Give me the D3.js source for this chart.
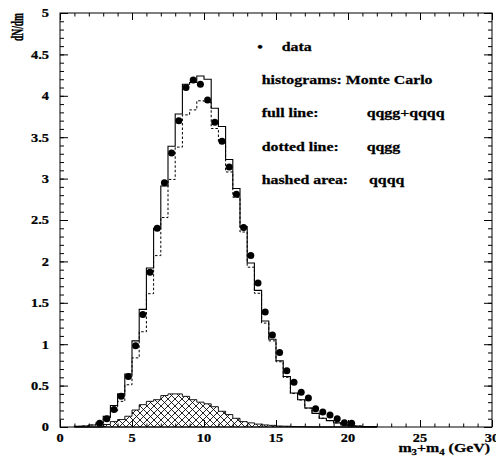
<!DOCTYPE html>
<html>
<head>
<meta charset="utf-8">
<script src="https://cdn.jsdelivr.net/npm/d3@7"></script>
<style>
  html, body { margin: 0; padding: 0; background: #fff; }
  svg { display: block; }
  text { font-family: "Liberation Serif", "Times New Roman", serif; font-weight: bold; fill: #000; stroke: #000; stroke-width: 0.25; }
</style>
</head>
<body>
<svg id="chart" width="496" height="463"></svg>
<script>
// ---------- data ----------
// histogram bins: lower edges (GeV), width 0.5
const binLow = [1.0,1.5,2.0,2.5,3.0,3.5,4.0,4.5,5.0,5.5,6.0,6.5,7.0,7.5,8.0,8.5,9.0,9.5,10.0,10.5,
                11.0,11.5,12.0,12.5,13.0,13.5,14.0,14.5,15.0,15.5,16.0,16.5,17.0,17.5,18.0,18.5,19.0,19.5,20.0,20.5,21.0,21.5];
const binWidth = 0.5;
// full line: qqgg+qqqq
const mcFull = [0.008,0.012,0.024,0.05,0.13,0.26,0.40,0.64,1.04,1.42,1.92,2.40,2.91,3.39,3.78,4.14,4.16,4.24,4.20,3.85,
                3.63,3.23,2.88,2.42,1.98,1.65,1.28,1.06,0.80,0.61,0.41,0.33,0.23,0.165,0.105,0.077,0.05,0.025,0.015,0.01,0.005,0.003];
// dotted line: qqgg
const mcQQGG = [0.008,0.012,0.024,0.05,0.10,0.195,0.31,0.51,0.835,1.15,1.61,2.07,2.53,2.99,3.38,3.77,3.83,3.94,3.92,3.605,
                3.44,3.08,2.775,2.355,1.93,1.615,1.255,1.04,0.788,0.60,0.404,0.326,0.228,0.164,0.105,0.077,0.05,0.025,0.015,0.01,0.005,0.003];
// hashed area: qqqq
const mcQQQQ = [0,0,0,0,0.03,0.065,0.09,0.13,0.205,0.27,0.31,0.33,0.38,0.40,0.40,0.37,0.33,0.30,0.28,0.245,
                0.19,0.15,0.105,0.065,0.05,0.035,0.025,0.02,0.012,0.01,0.006,0.004,0.002,0.001,0,0,0,0,0,0,0,0];
// data points
const dataX = [2.75,3.25,3.75,4.25,4.75,5.25,5.75,6.25,6.75,7.25,7.75,8.25,8.75,9.25,9.75,10.25,10.75,11.25,11.75,12.25,
               12.75,13.25,13.75,14.25,14.75,15.25,15.75,16.25,16.75,17.25,17.75,18.25,18.75,19.25,19.75,20.25];
const dataY = [0.045,0.10,0.21,0.37,0.61,0.98,1.36,1.87,2.40,2.95,3.31,3.70,4.10,4.19,4.14,3.95,3.68,3.45,3.14,2.81,
               2.41,2.07,1.74,1.39,1.11,0.90,0.68,0.54,0.42,0.35,0.22,0.18,0.145,0.10,0.05,0.045];
// ticks
const xTickLabels = [0,5,10,15,20,25,30];
const yTickLabels = [0,0.5,1,1.5,2,2.5,3,3.5,4,4.5,5];
// legend
const legendRows = [
  ["histograms: Monte Carlo", ""],
  ["full line:", "qqgg+qqqq"],
  ["dotted line:", "qqgg"],
  ["hashed area:", "qqqq"]
];

// ---------- layout ----------
const svg = d3.select("#chart");
const x = d3.scaleLinear().domain([0, 30]).range([60, 492]);
const y = d3.scaleLinear().domain([0, 5]).range([427, 13]);

// hatch pattern
const defs = svg.append("defs");
const pat = defs.append("pattern").attr("id", "hatch").attr("patternUnits", "userSpaceOnUse")
  .attr("width", 7).attr("height", 7);
pat.append("path").attr("d", "M-1,-1 L8,8 M-1,8 L8,-1 M-1,6 L1,8 M6,-1 L8,1 M-1,1 L1,-1 M6,8 L8,6")
  .attr("stroke", "#000").attr("stroke-width", 0.85).attr("fill", "none");

function stepPoints(vals) {
  const pts = [[binLow[0], 0]];
  vals.forEach((v, i) => { pts.push([binLow[i], v]); pts.push([binLow[i] + binWidth, v]); });
  pts.push([binLow[binLow.length - 1] + binWidth, 0]);
  return pts;
}
const line = d3.line().x(d => x(d[0])).y(d => y(d[1]));

// hashed qqqq
svg.append("path").attr("d", line(stepPoints(mcQQQQ)) + "Z")
  .attr("fill", "url(#hatch)").attr("stroke", "#000").attr("stroke-width", 0.9);
// dotted qqgg
svg.append("path").attr("d", line(stepPoints(mcQQGG)))
  .attr("fill", "none").attr("stroke", "#000").attr("stroke-width", 1).attr("stroke-dasharray", "2.5,2");
// full
svg.append("path").attr("d", line(stepPoints(mcFull)))
  .attr("fill", "none").attr("stroke", "#000").attr("stroke-width", 1.1);
// data points
svg.append("g").selectAll("circle").data(dataX).join("circle")
  .attr("cx", d => x(d)).attr("cy", (d, i) => y(dataY[i])).attr("r", 3.5).attr("fill", "#000");

// frame
svg.append("rect").attr("x", x(0)).attr("y", y(5)).attr("width", x(30) - x(0)).attr("height", y(0) - y(5))
  .attr("fill", "none").attr("stroke", "#000").attr("stroke-width", 1);

// ticks (inside)
const xMinor = d3.range(0, 31, 1), xMajor = d3.range(0, 31, 5);
const yMinor = d3.range(0, 51, 1).map(d => d / 10), yMajor = d3.range(0, 11, 1).map(d => d / 2);
function addAxis(gen, tx, ty) {
  const g = svg.append("g").attr("transform", `translate(${tx},${ty})`).call(gen);
  g.select(".domain").remove();
  g.selectAll("line").attr("stroke", "#000").attr("stroke-width", 1);
  g.selectAll("text").remove();
}
addAxis(d3.axisBottom(x).tickValues(xMinor).tickSize(-3.5), 0, y(0));
addAxis(d3.axisBottom(x).tickValues(xMajor).tickSize(-7), 0, y(0));
addAxis(d3.axisTop(x).tickValues(xMinor).tickSize(-3.5), 0, y(5));
addAxis(d3.axisTop(x).tickValues(xMajor).tickSize(-7), 0, y(5));
addAxis(d3.axisLeft(y).tickValues(yMinor).tickSize(-4), x(0), 0);
addAxis(d3.axisLeft(y).tickValues(yMajor).tickSize(-8), x(0), 0);
addAxis(d3.axisRight(y).tickValues(yMinor).tickSize(-4), x(30), 0);
addAxis(d3.axisRight(y).tickValues(yMajor).tickSize(-8), x(30), 0);

// tick labels
const fmt = d => String(d);
svg.append("g").selectAll("text").data(xTickLabels).join("text")
  .attr("transform", d => `translate(${x(d)},441.5) scale(1.15,1)`)
  .attr("text-anchor", "middle").attr("font-size", 12.5).text(fmt);
svg.append("g").selectAll("text").data(yTickLabels).join("text")
  .attr("transform", d => `translate(49,${y(d) + 4.3}) scale(1.15,1)`)
  .attr("text-anchor", "end").attr("font-size", 12.5).text(fmt);

// axis titles
svg.append("text").attr("transform", "translate(22.5,13) scale(1.8,1) rotate(-90)")
  .attr("text-anchor", "end").attr("font-size", 9.5).text("dN/dm");
const xt = svg.append("text").attr("transform", "translate(490,452) scale(1.27,1)")
  .attr("text-anchor", "end").attr("font-size", 12.5);
xt.append("tspan").text("m");
xt.append("tspan").attr("font-size", 8.5).attr("dy", 3).text("3");
xt.append("tspan").attr("dy", -3).text("+m");
xt.append("tspan").attr("font-size", 8.5).attr("dy", 3).text("4");
xt.append("tspan").attr("dy", -3).text(" (GeV)");

// legend
svg.append("text").attr("transform", "translate(260,50.7) scale(1.27,1)")
  .attr("text-anchor", "middle").attr("font-size", 12.5).text("•");
svg.append("text").attr("transform", "translate(281.7,50.7) scale(1.27,1)")
  .attr("font-size", 12.5).text("data");
const rowY = [84.3, 117.3, 150.7, 184];
const rightX = [0, 366.7, 366.7, 369];
legendRows.forEach((r, i) => {
  svg.append("text").attr("transform", `translate(261.7,${rowY[i]}) scale(1.27,1)`)
    .attr("font-size", 12.5).text(r[0]);
  if (r[1]) svg.append("text").attr("transform", `translate(${rightX[i]},${rowY[i]}) scale(1.27,1)`)
    .attr("font-size", 12.5).text(r[1]);
});
</script>
</body>
</html>
